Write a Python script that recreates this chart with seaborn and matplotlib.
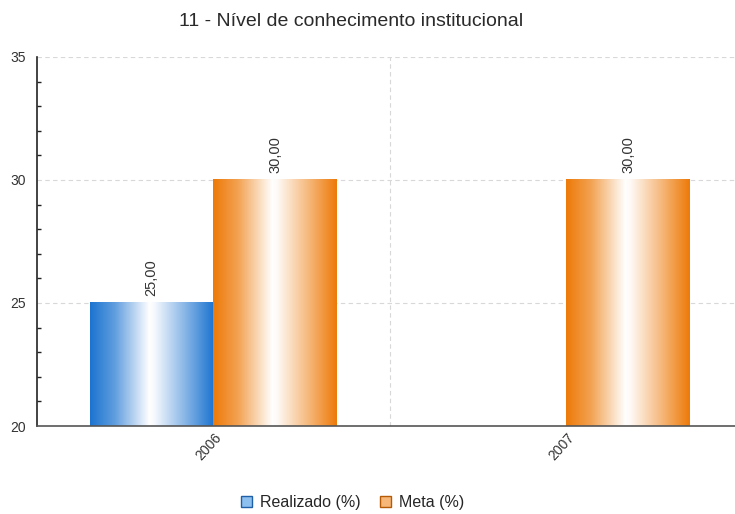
import numpy as np
import pandas as pd
import matplotlib
matplotlib.use("Agg")
import matplotlib.pyplot as plt
from matplotlib.colors import LinearSegmentedColormap, to_rgb
from matplotlib.patches import Patch
import seaborn as sns

# Data
anos = ["2006", "2007"]
realizado = [25.0, np.nan]
meta = [30.0, 30.0]
series = ["Realizado (%)", "Meta (%)"]
cores = {"Realizado (%)": "#1c74d0", "Meta (%)": "#ed7a08"}

df = pd.DataFrame({
    "Ano": anos * 2,
    "Serie": [series[0]] * 2 + [series[1]] * 2,
    "Valor": realizado + meta,
})

sns.set_theme(style="white")
plt.rcParams["font.family"] = ["Liberation Sans", "DejaVu Sans"]

fig = plt.figure(figsize=(7.35, 5.14), dpi=100)
ax = fig.add_axes([0.0503, 0.1712, 0.9605, 0.718])

sns.barplot(data=df, x="Ano", y="Valor", hue="Serie", order=anos,
            hue_order=series, palette=cores, width=0.7, ax=ax,
            legend=False, saturation=1)

ax.set_xlim(-0.5, 1.5)
ax.set_ylim(20, 35)


def mix(c, t):
    """Blend colour c with white; t=1 gives c, t=0 gives white."""
    r = np.array(to_rgb(c))
    return tuple(r * t + (1 - t))


# Cylinder-like gradient for each bar
def gradient_cmap(base):
    return LinearSegmentedColormap.from_list(
        "g", [(0.0, base), (0.2, mix(base, 0.7)), (0.48, "#ffffff"),
              (0.52, mix(base, 0.04)), (0.78, mix(base, 0.55)), (1.0, base)])


grad = np.linspace(0, 1, 256).reshape(1, -1)
for p in list(ax.patches):
    h = p.get_height()
    if np.isnan(h) or h == 0:
        continue
    x0 = p.get_x()
    w = p.get_width()
    y0 = p.get_y()
    fc = p.get_facecolor()[:3]
    ax.imshow(grad, cmap=gradient_cmap(fc), aspect="auto",
              extent=[x0, x0 + w, y0, y0 + h],
              zorder=p.get_zorder() + 0.1, interpolation="bicubic")
    p.set_facecolor("none")
    p.set_edgecolor("none")
ax.set_xlim(-0.5, 1.5)
ax.set_ylim(20, 35)

# Value labels
for cont in ax.containers:
    for p in cont:
        h = p.get_height()
        if np.isnan(h):
            continue
        top = p.get_y() + h
        ax.annotate(f"{top:.2f}".replace(".", ","),
                    (p.get_x() + p.get_width() / 2, top),
                    xytext=(0, 5), textcoords="offset points",
                    rotation=90, ha="center", va="bottom",
                    fontsize=10.5, color="#333333")

# Axes styling
ax.set_yticks([20, 25, 30, 35])
ax.set_yticks(np.arange(20, 35.01, 1), minor=True)
ax.tick_params(axis="y", which="major", direction="out", length=4,
               width=1, color="#222222", labelsize=10, labelcolor="#333333", pad=4)
ax.tick_params(axis="y", which="minor", direction="in", length=3,
               width=1, color="#222222", left=True)
ax.tick_params(axis="x", which="major", length=0, labelsize=10,
               labelcolor="#333333", pad=3)
for lab in ax.get_xticklabels():
    lab.set_rotation(48)
    lab.set_ha("right")
    lab.set_va("top")
    lab.set_rotation_mode("anchor")

ax.set_xlabel("")
ax.set_ylabel("")
for s in ["top", "right"]:
    ax.spines[s].set_visible(False)
ax.spines["left"].set_color("#222222")
ax.spines["left"].set_linewidth(1.2)
ax.spines["bottom"].set_color("#555555")
ax.spines["bottom"].set_linewidth(1.2)

ax.grid(False)
for yv in [25, 30, 35]:
    ax.axhline(yv, color="#d8d8d8", lw=0.8, ls=(0, (4, 3)), zorder=0)
ax.axvline(0.5, color="#d8d8d8", lw=0.8, ls=(0, (4, 3)), zorder=0)

fig.text(0.477, 0.958, "11 - Nível de conhecimento institucional",
         ha="center", va="center", fontsize=14, color="#2a2a2a")

handles = [Patch(facecolor="#8ec0ef", edgecolor="#1f5fa8", lw=1),
           Patch(facecolor="#f6b778", edgecolor="#b55a05", lw=1)]
fig.legend(handles, series, loc="center", bbox_to_anchor=(0.48, 0.022),
           ncol=2, frameon=False, fontsize=11.5, handlelength=0.7,
           handleheight=0.7, handletextpad=0.5, columnspacing=1.2,
           borderpad=0.1)

fig.savefig("out.png", dpi=100)
